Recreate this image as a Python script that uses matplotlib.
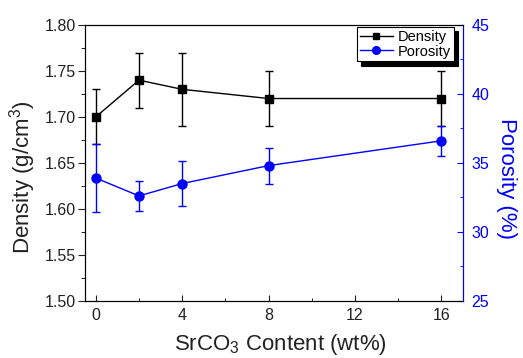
import matplotlib
matplotlib.use("Agg")
import matplotlib.pyplot as plt
from matplotlib.ticker import MultipleLocator
from matplotlib.lines import Line2D

plt.rcParams['font.family'] = ['Liberation Sans', 'DejaVu Sans']
plt.rcParams['mathtext.fontset'] = 'custom'
plt.rcParams['mathtext.rm'] = 'Liberation Sans'

content = [0, 2, 4, 8, 16]
density = [1.70, 1.74, 1.73, 1.72, 1.72]
density_err = [0.03, 0.03, 0.04, 0.03, 0.03]
porosity = [33.9, 32.6, 33.5, 34.8, 36.6]
porosity_err = [2.5, 1.1, 1.6, 1.3, 1.1]

fig = plt.figure(figsize=(5.23, 3.58), dpi=100)
ax = fig.add_axes([85/523, 1-300.7/358, (463-85)/523, (300.7-25)/358])
ax2 = ax.twinx()

ax.errorbar(content, density, yerr=density_err, color='black', marker='s',
            markersize=5.5, linewidth=1, capsize=3, elinewidth=1, capthick=1)
ax2.errorbar(content, porosity, yerr=porosity_err, color='blue', marker='o',
             markersize=6.5, linewidth=1, capsize=3, elinewidth=1, capthick=1)

ax.set_xlim(-0.5, 17)
ax.set_ylim(1.50, 1.80)
ax2.set_ylim(25, 45)

ax.xaxis.set_major_locator(MultipleLocator(4))
ax.xaxis.set_minor_locator(MultipleLocator(2))
ax.yaxis.set_major_locator(MultipleLocator(0.05))
ax.yaxis.set_minor_locator(MultipleLocator(0.025))
ax2.yaxis.set_major_locator(MultipleLocator(5))
ax2.yaxis.set_minor_locator(MultipleLocator(2.5))
ax.yaxis.set_major_formatter(matplotlib.ticker.FormatStrFormatter('%.2f'))

ax.tick_params(axis='y', which='major', direction='out', length=5, pad=1.5, labelsize=11.5, colors='#222222')
ax.tick_params(axis='y', which='minor', direction='out', length=3)
ax.tick_params(axis='x', which='major', direction='in', length=4, pad=5, labelsize=11.5, colors='#222222')
ax.tick_params(axis='x', which='minor', direction='in', length=2)
ax2.tick_params(axis='y', which='major', direction='in', length=4, pad=6, labelsize=11.5, colors='blue')
ax2.tick_params(axis='y', which='minor', direction='in', length=2, colors='blue')

for s in ['left', 'bottom', 'top']:
    ax2.spines[s].set_color('black')
ax2.spines['right'].set_color('blue')

ax.set_xlabel('SrCO$_3$ Content (wt%)', fontsize=16, color='#222222', labelpad=7)
ax.set_ylabel('Density (g/cm$^3$)', fontsize=16, color='#222222', labelpad=5)
ax2.set_ylabel('Porosity (%)', fontsize=16, color='blue', rotation=270, labelpad=20)
ax.yaxis.label.set_y(0.447)
ax2.yaxis.label.set_y(0.443)
ax.xaxis.label.set_x(0.516)

h1 = Line2D([], [], color='black', marker='s', markersize=5, linewidth=1)
h2 = Line2D([], [], color='blue', marker='o', markersize=5.5, linewidth=1)
leg = ax2.legend([h1, h2], ['Density', 'Porosity'], loc='upper right',
                 bbox_to_anchor=(0.975, 0.993), fontsize=10.5, frameon=True,
                 fancybox=False, shadow={'color': 'black', 'alpha': 1, 'ox': 3, 'oy': -3},
                 handlelength=2.3, handletextpad=0.3, borderpad=0.2,
                 labelspacing=0.05, borderaxespad=0.0, edgecolor='black')
leg.get_frame().set_linewidth(0.8)

fig.savefig('out.png', dpi=100)
